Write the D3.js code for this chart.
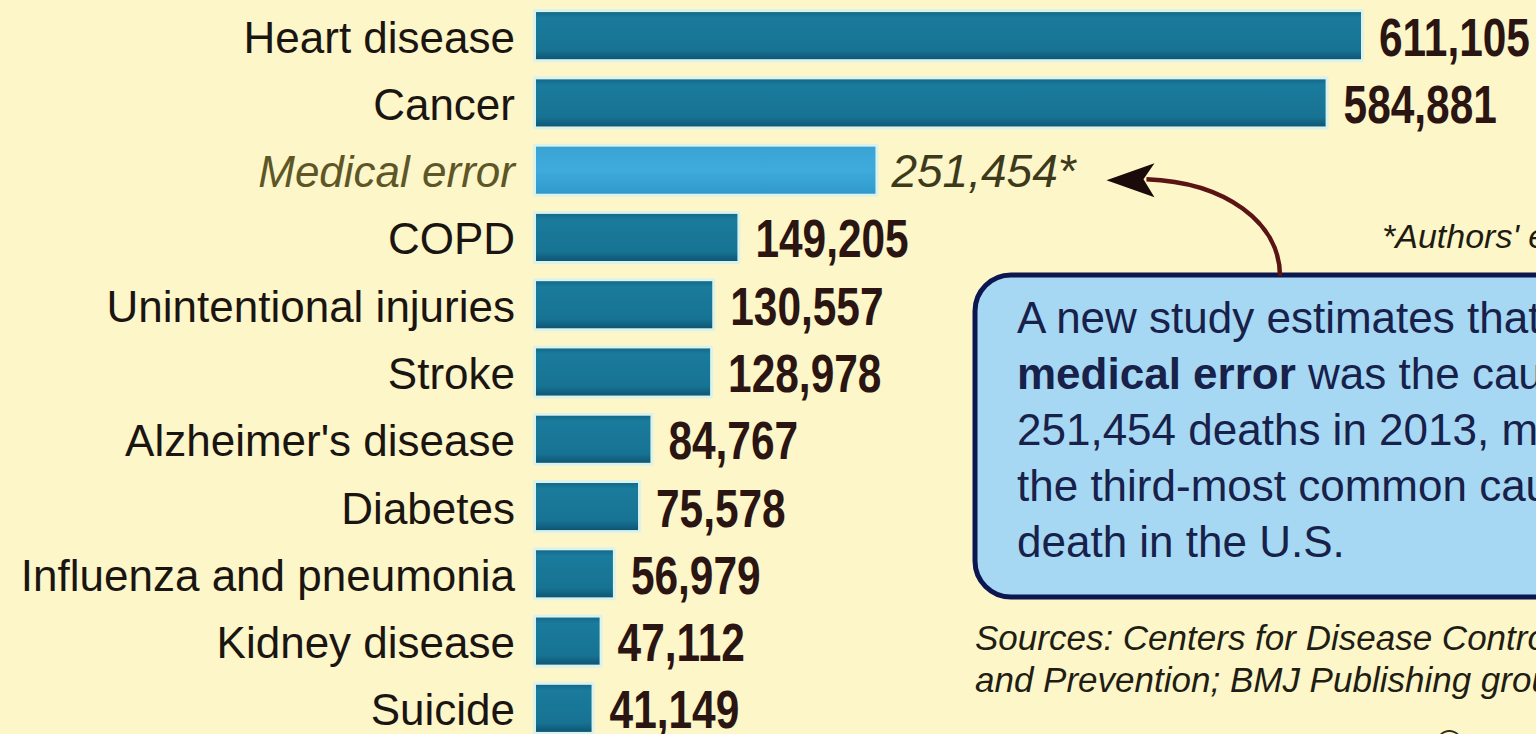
<!DOCTYPE html>
<html>
<head>
<meta charset="utf-8">
<script src="https://cdn.jsdelivr.net/npm/d3@7/dist/d3.min.js"></script>
<style>
  html, body { margin: 0; padding: 0; background: #fcf6c9; overflow: hidden; }
  svg { display: block; }
</style>
</head>
<body>
<svg id="chart" width="1536" height="734"></svg>
<script>
// Leading causes of death in the U.S., 2013
const causes = [
  "Heart disease", "Cancer", "Medical error", "COPD", "Unintentional injuries",
  "Stroke", "Alzheimer's disease", "Diabetes", "Influenza and pneumonia",
  "Kidney disease", "Suicide"
];
const deaths = [611105, 584881, 251454, 149205, 130557, 128978, 84767, 75578, 56979, 47112, 41149];
const highlighted = "Medical error";

// Callout text, one array of runs per line (bold runs flagged)
const noteLines = [
  [["A new study estimates that", false]],
  [["medical error", true], [" was the cause of", false]],
  [["251,454 deaths in 2013, making it", false]],
  [["the third-most common cause of", false]],
  [["death in the U.S.", false]]
];
const footnote = "*Authors' estimate";
const sourceLines = [
  "Sources: Centers for Disease Control",
  "and Prevention; BMJ Publishing group"
];
const credit = "©";

const svg = d3.select("#chart");
const W = 1536, H = 734;

svg.append("rect").attr("width", W).attr("height", H).attr("fill", "#fcf6c9");

const defs = svg.append("defs");
const gDark = defs.append("linearGradient").attr("id", "barDark").attr("x1", 0).attr("x2", 0).attr("y1", 0).attr("y2", 1);
gDark.append("stop").attr("offset", "0%").attr("stop-color", "#14698a");
gDark.append("stop").attr("offset", "12%").attr("stop-color", "#1a7b9c");
gDark.append("stop").attr("offset", "80%").attr("stop-color", "#177393");
gDark.append("stop").attr("offset", "100%").attr("stop-color", "#0e5675");
const gLight = defs.append("linearGradient").attr("id", "barLight").attr("x1", 0).attr("x2", 0).attr("y1", 0).attr("y2", 1);
gLight.append("stop").attr("offset", "0%").attr("stop-color", "#3aa3d4");
gLight.append("stop").attr("offset", "50%").attr("stop-color", "#3eabdc");
gLight.append("stop").attr("offset", "100%").attr("stop-color", "#3199cc");

const rows = causes.map((c, i) => ({ cause: c, value: deaths[i] }));

const y = d3.scaleBand().domain(causes).range([2, 742]).paddingInner(0.3).paddingOuter(0.15);
const x = d3.scaleLinear().domain([0, d3.max(deaths)]).range([536, 1361]);
const fmt = d3.format(",");

// Bars with a pale halo
const bars = svg.append("g");
bars.selectAll("rect.halo").data(rows).join("rect")
  .attr("class", "halo")
  .attr("x", x(0) - 3)
  .attr("y", d => y(d.cause) - 3)
  .attr("width", d => x(d.value) - x(0) + 6)
  .attr("height", y.bandwidth() + 6)
  .attr("rx", 2)
  .attr("fill", "#dcf3ec");
bars.selectAll("rect.bar").data(rows).join("rect")
  .attr("class", "bar")
  .attr("x", x(0))
  .attr("y", d => y(d.cause))
  .attr("width", d => x(d.value) - x(0))
  .attr("height", y.bandwidth())
  .attr("fill", d => d.cause === highlighted ? "url(#barLight)" : "url(#barDark)");

// Category labels
svg.append("g").selectAll("text").data(rows).join("text")
  .attr("x", 515)
  .attr("y", d => y(d.cause) + y.bandwidth() / 2 + 17)
  .attr("text-anchor", "end")
  .attr("font-family", "'Liberation Sans', Arial, sans-serif")
  .attr("font-size", 44)
  .attr("font-style", d => d.cause === highlighted ? "italic" : "normal")
  .attr("fill", d => d.cause === highlighted ? "#5e5626" : "#1b1512")
  .text(d => d.cause);

// Value labels (condensed bold), highlighted one in italic
const vals = svg.append("g");
vals.selectAll("text").data(rows.filter(d => d.cause !== highlighted)).join("text")
  .attr("transform", d => `translate(${x(d.value) + 18},${y(d.cause) + y.bandwidth() / 2 + 20}) scale(0.8,1)`)
  .attr("font-family", "'Liberation Sans', Arial, sans-serif")
  .attr("font-weight", "bold")
  .attr("font-size", 53)
  .attr("fill", "#2a1512")
  .text(d => fmt(d.value));
vals.selectAll("text.hl").data(rows.filter(d => d.cause === highlighted)).join("text")
  .attr("class", "hl")
  .attr("x", d => x(d.value) + 16)
  .attr("y", d => y(d.cause) + y.bandwidth() / 2 + 17)
  .attr("font-family", "'Liberation Sans', Arial, sans-serif")
  .attr("font-style", "italic")
  .attr("font-size", 46)
  .attr("fill", "#3d3a1c")
  .text(d => fmt(d.value) + "*");

// Footnote
svg.append("text")
  .attr("x", 1382).attr("y", 248)
  .attr("font-family", "'Liberation Sans', Arial, sans-serif")
  .attr("font-style", "italic")
  .attr("font-size", 34)
  .attr("fill", "#1e1c12")
  .text(footnote);

// Callout box
const box = { x: 975, y: 275, w: 720, h: 322 };
svg.append("rect")
  .attr("x", box.x).attr("y", box.y)
  .attr("width", box.w).attr("height", box.h)
  .attr("rx", 36)
  .attr("fill", "#a6d7f3")
  .attr("stroke", "#0c1650")
  .attr("stroke-width", 5);

const note = svg.append("text")
  .attr("font-family", "'Liberation Sans', Arial, sans-serif")
  .attr("font-size", 44)
  .attr("fill", "#17214a");
noteLines.forEach((line, i) => {
  line.forEach((run, j) => {
    const t = note.append("tspan").text(run[0]).attr("font-weight", run[1] ? "bold" : "normal");
    if (j === 0) t.attr("x", box.x + 42).attr("y", box.y + 58 + i * 56);
  });
});

// Curved arrow from the callout to the highlighted value
const mid = y(highlighted) + y.bandwidth() / 2;
const tipX = x(deaths[causes.indexOf(highlighted)]) + 231;
const p = d3.path();
p.moveTo(1280, box.y + 1);
p.bezierCurveTo(1280, 222, 1225, mid + 12, tipX + 40, mid + 9);
svg.append("path")
  .attr("d", p.toString())
  .attr("fill", "none")
  .attr("stroke", "#5a1414")
  .attr("stroke-width", 4.5);
const head = d3.line()([
  [tipX, mid + 10], [tipX + 48, mid - 7], [tipX + 37, mid + 9], [tipX + 48, mid + 27]
]);
svg.append("path").attr("d", head + "Z").attr("fill", "#1a0a0a");

// Sources
svg.append("g").selectAll("text").data(sourceLines).join("text")
  .attr("x", 975)
  .attr("y", (d, i) => 650 + i * 42)
  .attr("font-family", "'Liberation Sans', Arial, sans-serif")
  .attr("font-style", "italic")
  .attr("font-size", 35)
  .attr("fill", "#1f1d14")
  .text(d => d);

svg.append("text")
  .attr("x", 1436).attr("y", 756)
  .attr("font-family", "'Liberation Sans', Arial, sans-serif")
  .attr("font-size", 36)
  .attr("fill", "#2a2818")
  .text(credit);
</script>
</body>
</html>
